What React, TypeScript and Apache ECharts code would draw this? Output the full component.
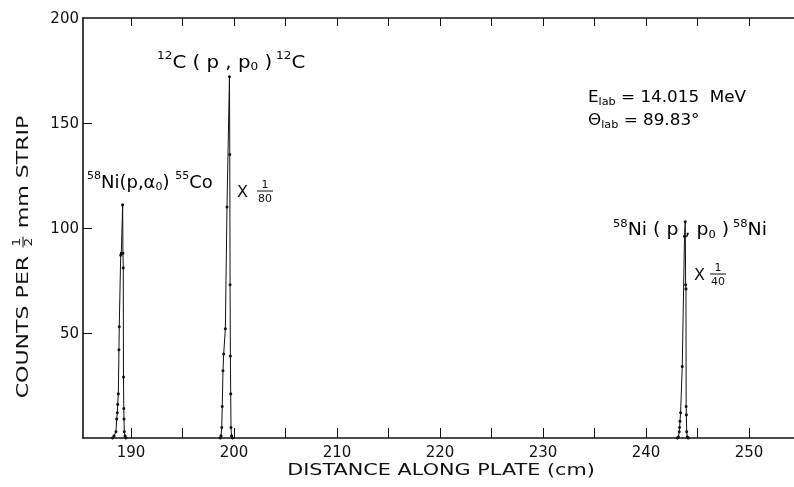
import { useEffect, useRef } from "react";
import * as echarts from "echarts";

// Peak 1: 58Ni(p,alpha0)55Co
const peak1X = [188.2, 188.35, 188.54, 188.61, 188.67, 188.71, 188.77, 188.83, 188.86, 189.0, 189.06, 189.19, 189.22, 189.25, 189.27, 189.3, 189.32, 189.35, 189.42, 189.51];
const peak1Y = [0, 1, 3, 9, 12, 16, 21, 42, 53, 87, 88, 111, 88, 81, 29, 14, 9, 3, 1, 0];
// Peak 2: 12C(p,p0)12C  (x 1/80)
const peak2X = [198.66, 198.74, 198.81, 198.86, 198.93, 199.0, 199.16, 199.32, 199.56, 199.59, 199.62, 199.65, 199.68, 199.71, 199.76, 199.85];
const peak2Y = [0, 1, 5, 15, 32, 40, 52, 110, 172, 135, 73, 39, 21, 5, 1, 0];
// Peak 3: 58Ni(p,p0)58Ni  (x 1/40)
const peak3X = [243.05, 243.15, 243.23, 243.26, 243.3, 243.36, 243.52, 243.74, 243.81, 243.85, 243.88, 243.9, 243.92, 243.95, 244.01, 244.1];
const peak3Y = [0, 0.5, 3, 5, 8, 12, 34, 96, 103, 73, 71, 15, 11, 3, 0.5, 0];

const xLabelValues = [190, 200, 210, 220, 230, 240, 250];
const xTickValues = [190, 195, 200, 205, 210, 215, 220, 225, 230, 235, 240, 245, 250];
const yLabelValues = [50, 100, 150, 200];
const yTickValues = [50, 100, 150];

const FONT = "DejaVu Sans";
const INK = "#111";

function pairs(xs: number[], ys: number[]) {
  return xs.map((x, i) => [x, ys[i]]);
}

export default function App() {
  const ref = useRef<HTMLDivElement>(null);
  useEffect(() => {
    const chart = echarts.init(ref.current!, null, { renderer: "svg" });
    const rich = {
      m: { fontSize: 18, fontFamily: FONT, color: INK, lineHeight: 22 },
      sup: { fontSize: 11, fontFamily: FONT, color: INK, lineHeight: 12, verticalAlign: "top" },
      sub: { fontSize: 11, fontFamily: FONT, color: INK, lineHeight: 12, verticalAlign: "bottom" },
      s: { fontSize: 15, fontFamily: FONT, color: INK, lineHeight: 20 },
      ssub: { fontSize: 10, fontFamily: FONT, color: INK, lineHeight: 10, verticalAlign: "bottom" },
    };
    const seriesBase = {
      type: "line" as const,
      symbol: "circle",
      symbolSize: 3,
      showSymbol: true,
      lineStyle: { color: INK, width: 1 },
      itemStyle: { color: INK },
      silent: true,
    };
    const fraction = (cx: number, cy: number, num: string, den: string, fs = 11, half = 8, off = 7) => [
      { type: "text", x: cx, y: cy - off, style: { text: num, font: `${fs}px "${FONT}"`, fill: INK, textAlign: "center", textVerticalAlign: "middle" } },
      { type: "line", shape: { x1: cx - half, y1: cy, x2: cx + half, y2: cy }, style: { stroke: INK, lineWidth: 1 } },
      { type: "text", x: cx, y: cy + off, style: { text: den, font: `${fs}px "${FONT}"`, fill: INK, textAlign: "center", textVerticalAlign: "middle" } },
    ];
    chart.setOption({
      animation: false,
      grid: { left: 83, right: 0, top: 18, bottom: 49, containLabel: false },
      xAxis: [
        {
          type: "value",
          min: 185.34,
          max: 254.37,
          position: "bottom",
          axisLine: { show: true, lineStyle: { color: INK, width: 1.6 } },
          axisTick: { show: true, inside: true, length: 10, customValues: xTickValues, lineStyle: { color: INK, width: 1 } },
          axisLabel: { customValues: xLabelValues, color: INK, fontFamily: FONT, fontSize: 15, margin: 6 },
          splitLine: { show: false },
        },
        {
          type: "value",
          min: 185.34,
          max: 254.37,
          position: "top",
          axisLine: { show: true, lineStyle: { color: INK, width: 1.6 } },
          axisTick: { show: true, inside: true, length: 8, customValues: xTickValues, lineStyle: { color: INK, width: 1 } },
          axisLabel: { show: false },
          splitLine: { show: false },
        },
      ],
      yAxis: {
        type: "value",
        min: 0,
        max: 200,
        axisLine: { show: true, lineStyle: { color: INK, width: 1.6 } },
        axisTick: { show: true, inside: true, length: 9, customValues: yTickValues, lineStyle: { color: INK, width: 1 } },
        axisLabel: { customValues: yLabelValues, color: INK, fontFamily: FONT, fontSize: 15, margin: 4 },
        splitLine: { show: false },
      },
      series: [
        { ...seriesBase, data: pairs(peak1X, peak1Y) },
        { ...seriesBase, data: pairs(peak2X, peak2Y) },
        { ...seriesBase, data: pairs(peak3X, peak3Y) },
      ],
      graphic: [
        // x axis title
        { type: "text", x: 441, y: 469, scaleX: 1.3, style: { text: "DISTANCE ALONG PLATE (cm)", font: `16px "${FONT}"`, fill: INK, textAlign: "center", textVerticalAlign: "middle" } },
        // y axis title
        {
          type: "group",
          x: 23,
          y: 242,
          rotation: Math.PI / 2,
          scaleX: 1.38,
          children: [
            { type: "text", x: -10, y: 0, style: { text: "COUNTS PER", font: `16px "${FONT}"`, fill: INK, textAlign: "right", textVerticalAlign: "middle" } },
            ...fraction(0, 0, "1", "2", 10, 4, 6),
            { type: "text", x: 10, y: 0, style: { text: "mm STRIP", font: `16px "${FONT}"`, fill: INK, textAlign: "left", textVerticalAlign: "middle" } },
          ],
        },
        { type: "text", x: 87, y: 170, style: { text: "{sup|58}{m|Ni(p,α}{sub|0}{m|) }{sup|55}{m|Co}", rich, textVerticalAlign: "top" } },
        { type: "text", x: 157, y: 50, scaleX: 1.1, style: { text: "{sup|12}{m|C ( p , p}{sub|0}{m| )}{sup| 12}{m|C}", rich, textVerticalAlign: "top" } },
        { type: "text", x: 613, y: 218, scaleX: 1.05, style: { text: "{sup|58}{m|Ni ( p , p}{sub|0}{m| )}{sup| 58}{m|Ni}", rich, textVerticalAlign: "top" } },
        { type: "text", x: 588, y: 87, scaleX: 1.12, style: { text: "{s|E}{ssub|lab}{s| = 14.015  MeV}", rich, textVerticalAlign: "top" } },
        { type: "text", x: 588, y: 110, scaleX: 1.12, style: { text: "{s|Θ}{ssub|lab}{s| = 89.83°}", rich, textVerticalAlign: "top" } },
        { type: "text", x: 237, y: 191, style: { text: "X", font: `16px "${FONT}"`, fill: INK, textAlign: "left", textVerticalAlign: "middle" } },
        ...fraction(265, 191, "1", "80"),
        { type: "text", x: 694, y: 274, style: { text: "X", font: `16px "${FONT}"`, fill: INK, textAlign: "left", textVerticalAlign: "middle" } },
        ...fraction(718, 274, "1", "40"),
      ],
    });
    return () => chart.dispose();
  }, []);
  return <div ref={ref} style={{ position: "fixed", left: 0, top: 0, width: 794, height: 487 }} />;
}
